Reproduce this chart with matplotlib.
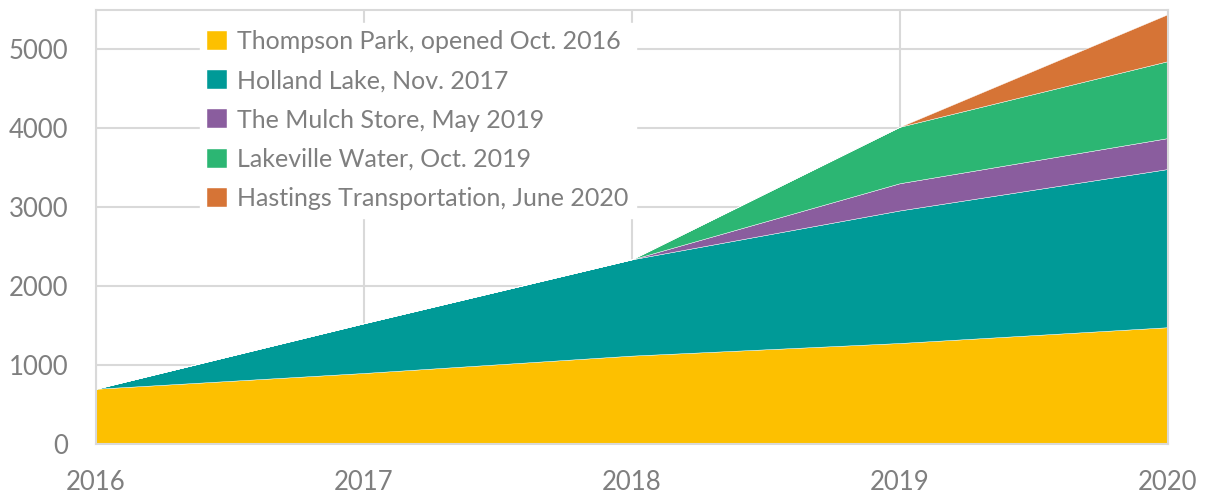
import matplotlib
matplotlib.use("Agg")
import matplotlib.pyplot as plt

years = [2016, 2017, 2018, 2019, 2020]
labels = ["Thompson Park, opened Oct. 2016", "Holland Lake, Nov. 2017",
          "The Mulch Store, May 2019", "Lakeville Water, Oct. 2019",
          "Hastings Transportation, June 2020"]
thompson = [700, 900, 1120, 1280, 1480]
holland = [0, 630, 1220, 1680, 2005]
mulch = [0, 0, 0, 345, 392]
lakeville = [0, 0, 0, 715, 975]
hastings = [0, 0, 0, 0, 595]
colors = ["#FDC000", "#009A97", "#8A5D9E", "#2CB673", "#D67436"]

GRID = "#d9d9d9"
TEXT = "#7f7f7f"
plt.rcParams["font.family"] = ["Lato", "DejaVu Sans"]

fig = plt.figure(figsize=(12.07, 4.93), dpi=100)
ax = fig.add_axes([0.0795, 0.0994, 0.888, 0.8803])
ax.stackplot(years, thompson, holland, mulch, lakeville, hastings,
             colors=colors, labels=labels, edgecolor="white", linewidth=0.3,
             zorder=2)

ax.set_xlim(2016, 2020)
ax.set_ylim(0, 5500)
ax.set_xticks(years)
ax.set_yticks(range(0, 5001, 1000))
ax.grid(True, color=GRID, lw=1.5, zorder=0)
ax.set_axisbelow(True)
for s in ax.spines.values():
    s.set_color(GRID)
    s.set_linewidth(1.5)
ax.tick_params(length=0, labelsize=18.5, labelcolor=TEXT)
ax.tick_params(axis="y", pad=20)
ax.tick_params(axis="x", pad=19)

leg = ax.legend(loc="upper left", bbox_to_anchor=(0.085, 1.0), fontsize=18,
                frameon=True, framealpha=1, edgecolor="white", fancybox=False,
                handlelength=0.8, handleheight=0.8, handletextpad=0.4,
                labelspacing=0.65, borderpad=0.3)
for t in leg.get_texts():
    t.set_color(TEXT)
leg.set_zorder(5)

fig.savefig("out.png", dpi=100)
